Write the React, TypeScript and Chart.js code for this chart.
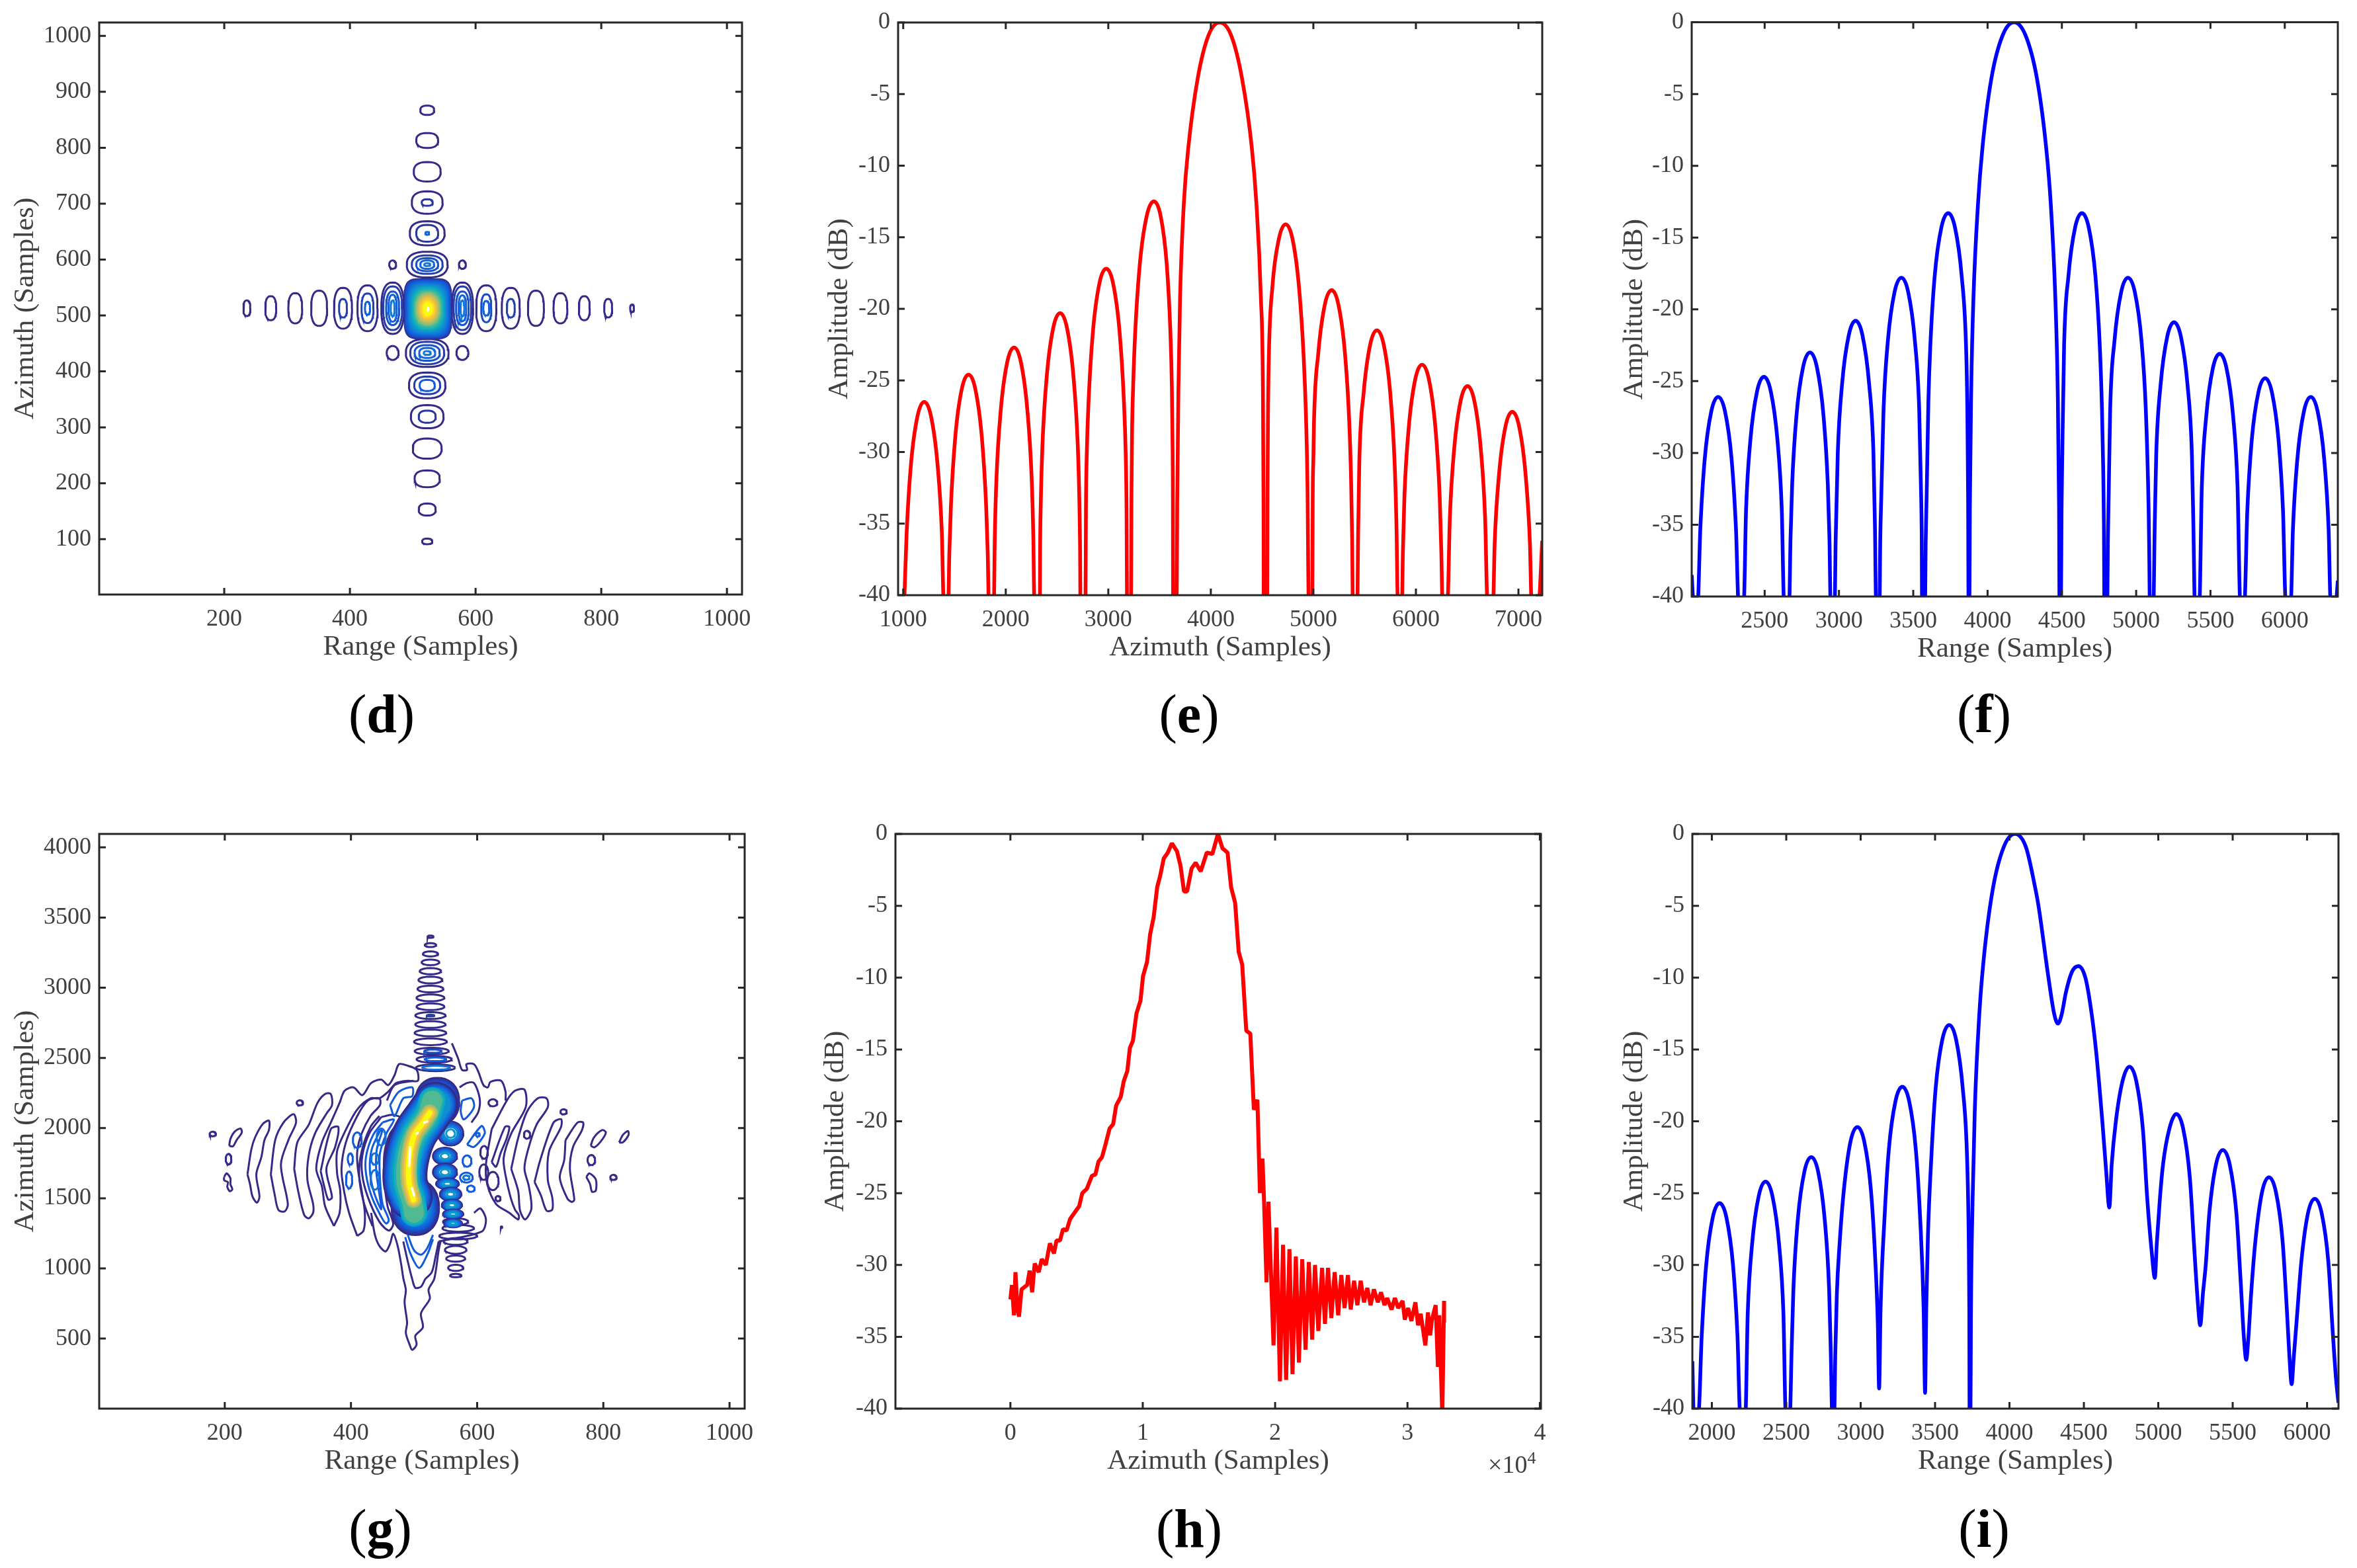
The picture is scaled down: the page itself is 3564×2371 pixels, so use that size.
import React, { useEffect, useRef } from "react";
import { Chart, registerables } from "chart.js";

Chart.register(...registerables);

// ---------- tick labels ----------
const contourXTicks = [200, 400, 600, 800, 1000];
const dYTicks = [100, 200, 300, 400, 500, 600, 700, 800, 900, 1000];
const gYTicks = [500, 1000, 1500, 2000, 2500, 3000, 3500, 4000];
const dbTicks = [0, -5, -10, -15, -20, -25, -30, -35, -40];
const eXTicks = [1000, 2000, 3000, 4000, 5000, 6000, 7000];
const fXTicks = [2500, 3000, 3500, 4000, 4500, 5000, 5500, 6000];
const hXTicks = [0, 10000, 20000, 30000, 40000];
const iXTicks = [2000, 2500, 3000, 3500, 4000, 4500, 5000, 5500, 6000];

// ---------- cuts: [samples, dB] ----------
const azimuthCutE = [
  [1010,-40.5],[1033,-35.7],[1075,-30.9],[1139,-27.5],[1205,-26.5],[1271,-27.5],[1335,-30.9],[1377,-35.7],[1395,-40.5],
  [1439,-40.5],[1450,-37],[1465,-33.8],[1507,-29],[1571,-25.6],[1637,-24.6],[1703,-25.6],[1767,-29],[1809,-33.8],[1824,-37],[1835,-40.5],
  [1884,-40.5],[1893,-36],[1909,-31.9],[1951,-27.1],[2015,-23.7],[2081,-22.7],[2147,-23.7],[2211,-27.1],[2253,-31.9],[2269,-36],[2279,-40.5],
  [2333,-40.5],[2335,-37],[2342,-33.5],[2358,-29.5],[2400,-24.7],[2464,-21.3],[2530,-20.3],[2596,-21.3],[2660,-24.7],[2702,-29.5],[2718,-33.5],[2725,-37],[2728,-40.5],
  [2778,-40.5],[2782,-34],[2790,-30.2],[2808,-26.4],[2850,-21.6],[2914,-18.2],[2980,-17.2],[3046,-18.2],[3110,-21.6],[3152,-26.4],[3170,-30.2],[3178,-34],[3183,-40.5],
  [3222,-40.5],[3226,-33],[3232,-28.5],[3242,-25.5],[3262,-21.7],[3307,-16.9],[3375,-13.5],[3445,-12.5],[3510,-13.5],[3570,-16.9],[3606,-21.7],[3620,-25.5],[3626,-29],[3630,-33],[3632,-40.5],
  [3667,-40.5],[3672,-33.8],[3684,-25.6],[3700,-19.2],[3737,-12.6],[3781,-8.7],[3872,-3.9],[3977,-0.9],[4086,0],[4198,-0.9],[4304,-3.9],[4399,-8.7],[4444,-12.6],[4488,-19.2],[4508,-25.6],[4514,-33.8],[4516,-40.5],
  [4550,-40.5],[4553,-33],[4557,-28],[4566,-23.3],[4600,-18.5],[4664,-15.1],[4730,-14.1],[4796,-15.1],[4860,-18.5],[4905,-23.3],[4928,-27.5],[4942,-32],[4955,-40.5],
  [4990,-40.5],[4994,-33],[5000,-30.5],[5006,-27.9],[5048,-23.1],[5112,-19.7],[5178,-18.7],[5244,-19.7],[5308,-23.1],[5350,-27.9],[5368,-32],[5378,-36],[5385,-40.5],
  [5429,-40.5],[5436,-36],[5448,-30.7],[5490,-25.9],[5554,-22.5],[5620,-21.5],[5686,-22.5],[5750,-25.9],[5792,-30.7],[5810,-35],[5824,-40.5],
  [5864,-40.5],[5873,-37],[5888,-33.1],[5930,-28.3],[5994,-24.9],[6060,-23.9],[6126,-24.9],[6190,-28.3],[6232,-33.1],[6248,-37],[6259,-40.5],
  [6308,-40.5],[6331,-34.6],[6373,-29.8],[6437,-26.4],[6503,-25.4],[6569,-26.4],[6633,-29.8],[6675,-34.6],[6698,-40.5],
  [6753,-40.5],[6768,-36.4],[6810,-31.6],[6874,-28.2],[6940,-27.2],[7006,-28.2],[7070,-31.6],[7112,-36.4],[7128,-40.5],
  [7197,-40.5],[7232,-36.2],
];

const rangeCutF = [
  [2009,-38.5],[2022,-40.5],
  [2049,-40.5],[2067,-35.3],[2096,-30.5],[2141,-27.1],[2187,-26.1],[2233,-27.1],[2278,-30.5],[2307,-35.3],[2325,-40.5],
  [2359,-40.5],[2375,-33.9],[2404,-29.1],[2449,-25.7],[2495,-24.7],[2541,-25.7],[2586,-29.1],[2615,-33.9],[2631,-40.5],
  [2665,-40.5],[2674,-36],[2685,-32.2],[2714,-27.4],[2759,-24],[2805,-23],[2851,-24],[2896,-27.4],[2925,-32.2],[2936,-36],[2944,-40.5],
  [2971,-40.5],[2978,-36],[2992,-30],[3021,-25.2],[3066,-21.8],[3112,-20.8],[3158,-21.8],[3203,-25.2],[3232,-30],[3242,-35],[3250,-40.5],
  [3273,-40.5],[3278,-36],[3285,-33],[3300,-27],[3329,-22.2],[3374,-18.8],[3420,-17.8],[3466,-18.8],[3511,-22.2],[3540,-27],[3553,-33],[3557,-36],[3559,-40.5],
  [3579,-40.5],[3584,-36],[3590,-33],[3602,-26.3],[3615,-22.5],[3644,-17.7],[3689,-14.3],[3735,-13.3],[3781,-14.3],[3826,-17.7],[3855,-22.5],[3864,-27],[3869,-33],[3872,-40.5],
  [3878,-40.5],[3881,-33.8],[3890,-25.6],[3905,-19.2],[3936,-12.6],[3966,-8.7],[4026,-3.9],[4102,-0.9],[4178,0],[4255,-0.9],[4332,-3.9],[4394,-8.7],[4425,-12.6],[4456,-19.2],[4472,-25.6],[4481,-33.8],[4484,-40.5],
  [4494,-40.5],[4498,-34],[4503,-30],[4515,-22.5],[4544,-17.7],[4589,-14.3],[4635,-13.3],[4681,-14.3],[4726,-17.7],[4755,-22.5],[4770,-27],[4778,-31],[4783,-35],[4786,-40.5],
  [4806,-40.5],[4810,-36],[4815,-33],[4825,-27],[4854,-22.2],[4899,-18.8],[4945,-17.8],[4991,-18.8],[5036,-22.2],[5065,-27],[5084,-34],[5088,-37],[5092,-40.5],
  [5116,-40.5],[5125,-35],[5135,-30.1],[5164,-25.3],[5209,-21.9],[5255,-20.9],[5301,-21.9],[5346,-25.3],[5375,-30.1],[5385,-35],[5395,-40.5],
  [5425,-40.5],[5442,-32.3],[5471,-27.5],[5516,-24.1],[5562,-23.1],[5608,-24.1],[5653,-27.5],[5682,-32.3],[5701,-40.5],
  [5728,-40.5],[5748,-34],[5777,-29.2],[5822,-25.8],[5868,-24.8],[5914,-25.8],[5959,-29.2],[5988,-34],[6007,-40.5],
  [6040,-40.5],[6055,-35.3],[6084,-30.5],[6129,-27.1],[6175,-26.1],[6221,-27.1],[6266,-30.5],[6295,-35.3],[6309,-40.5],
  [6343,-40.5],[6357,-38.9],
];

const azimuthCutH = [
  [0,-32.4],[115,-31.4],[268,-33.5],[382,-30.5],[535,-33.1],[650,-33.6],[841,-31.7],[1262,-31.4],[1453,-30.4],[1644,-31.9],
  [1836,-29.9],[2141,-30.5],[2371,-29.6],[2677,-30],[2983,-28.5],[3289,-29.2],[3480,-28.3],[3748,-28.3],[3977,-27.5],[4245,-27.6],
  [4512,-26.8],[4818,-26.4],[5201,-25.9],[5430,-25],[5774,-24.7],[6157,-23.8],[6424,-23.7],[6654,-22.8],[6921,-22.5],[7189,-21.6],
  [7495,-20.5],[7763,-20.2],[7992,-18.9],[8336,-18.3],[8566,-17.2],[8833,-16.5],[9025,-14.9],[9254,-14.4],[9522,-12.5],[9828,-11.6],
  [10019,-9.9],[10325,-8.9],[10554,-7],[10822,-5.8],[11090,-3.7],[11319,-2.9],[11587,-1.7],[11893,-1.3],[12199,-0.65],[12581,-1.2],
  [12849,-2.2],[13116,-4],[13346,-4],[13690,-2.4],[13996,-2],[14378,-2.6],[14837,-1.3],[15258,-1.4],[15678,0],[16022,-1],
  [16405,-1.3],[16673,-3.7],[16979,-4.8],[17246,-8.2],[17514,-9.1],[17820,-13.7],[18126,-13.9],[18393,-19.2],[18661,-18.5],[18852,-25],
  [19044,-22.6],[19158,-25.4],[19349,-31.2],[19497,-25.6],[19880,-35.6],[20097,-27.4],[20363,-38.1],[20597,-28.6],[20830,-38],[21080,-28.9],
  [21313,-37.6],[21563,-29.4],[21797,-36.8],[22047,-29.6],[22297,-35.9],[22547,-29.8],[22797,-35.2],[23013,-30],[23263,-34.6],[23547,-30.2],
  [23763,-34.1],[23997,-30.2],[24247,-33.7],[24497,-30.5],[24763,-33.5],[24997,-30.7],[25247,-33],[25497,-30.7],[25713,-33.1],[25963,-31.1],
  [26213,-32.8],[26463,-31.1],[26713,-32.6],[26963,-31.6],[27213,-32.8],[27463,-31.7],[27763,-32.6],[27997,-31.9],[28263,-32.8],[28463,-32.3],
  [28797,-33.1],[29047,-32.3],[29297,-33],[29630,-32.5],[29797,-33.8],[30047,-33],[30297,-33.9],[30597,-32.6],[30797,-34.2],[31000,-33.4],
  [31347,-35.6],[31547,-33.3],[31713,-34.9],[31850,-33.8],[32130,-32.8],[32297,-37.1],[32400,-33.5],[32630,-40.5],[32763,-32.5],[32763,-34],
];

const rangeCutI = [
  [1869,-36.7],[1879,-40.5],
  [1909,-40.5],[1932,-34.9],[1961,-30.1],[2006,-26.7],[2052,-25.7],[2098,-26.7],[2143,-30.1],[2172,-34.9],[2191,-40.5],
  [2225,-40.5],[2241,-33.4],[2270,-28.6],[2315,-25.2],[2361,-24.2],[2407,-25.2],[2452,-28.6],[2481,-33.4],[2497,-40.5],
  [2524,-40.5],[2536,-36],[2548,-31.7],[2577,-26.9],[2622,-23.5],[2668,-22.5],[2714,-23.5],[2759,-26.9],[2788,-31.7],[2799,-36],[2809,-40.5],
  [2822,-40.5],[2830,-36],[2840,-32],[2858,-28.6],[2887,-24.8],[2932,-21.4],[2978,-20.4],[3024,-21.4],[3069,-24.8],[3098,-29.6],[3115,-34],[3124,-38.6],
  [3134,-33],[3160,-26.8],[3189,-22],[3234,-18.6],[3280,-17.6],[3326,-18.6],[3371,-22],[3400,-26.8],[3423,-33],[3433,-38.9],
  [3441,-33],[3452,-28],[3475,-22.5],[3504,-17.7],[3549,-14.3],[3595,-13.3],[3641,-14.3],[3686,-17.7],[3715,-22.5],[3726,-28],[3730,-33],[3732,-40.5],
  [3738,-40.5],[3741,-33.8],[3752,-25.6],[3767,-19.2],[3797,-12.6],[3827,-8.7],[3887,-3.9],[3962,-0.9],[4037,0],[4110,-0.9],[4170,-3.6],[4195,-5],[4262,-10],[4300,-12.5],[4326,-13.2],
  [4350,-12.6],[4380,-11],[4420,-9.6],[4463,-9.2],[4510,-10],[4545,-12],[4581,-15],[4624,-20],[4650,-23.5],[4671,-26],
  [4687,-23],[4715,-20],[4760,-17.2],[4806,-16.2],[4852,-17.2],[4897,-20.6],[4926,-25.4],[4955,-29],[4977,-30.9],
  [4990,-28.5],[5010,-25.5],[5032,-23],[5075,-20.5],[5121,-19.5],[5167,-20.5],[5212,-23.9],[5241,-28.7],[5265,-32.5],[5282,-34.2],
  [5300,-32],[5319,-30],[5343,-26.4],[5388,-23],[5434,-22],[5480,-23],[5525,-26.4],[5554,-31.2],[5575,-35],[5591,-36.6],
  [5606,-35],[5624,-32],[5653,-28.3],[5698,-24.9],[5744,-23.9],[5790,-24.9],[5835,-28.3],[5864,-33.1],[5882,-36.5],[5896,-38.3],
  [5910,-36.5],[5932,-33.6],[5961,-29.8],[6006,-26.4],[6052,-25.4],[6098,-26.4],[6143,-29.8],[6172,-34.6],[6195,-38],[6211,-39.6],
];

// ---------- contour colour levels ----------
const parulaStops = ["#352a87","#0f5cdd","#1481d6","#06a4ca","#2eb7a4","#87bf77","#d1bb59","#fec832","#f9fb0e"];

// ---------- panel (d): contour rings [centre range, centre azimuth, half range, half azimuth, level] ----------
const dRangeLobes = [
  [236,513,5.5,14,0],[274,513,8.7,21.5,0],[313,513,11,27,0],[351,513,12.7,31.5,0],
  [389,513,14.3,36.5,0],[389,513,6.3,16.5,0.06],
  [428,513,16,41,0],[428,513,9.5,26.5,0.06],[428,513,4,11.5,0.14],
  [468,513,18,46,0],[468,513,15,39,0.05],[468,513,10.3,30,0.1],[468,513,6.5,24,0.14],[468,513,3,14,0.22],
  [579,513,17,46,0],[579,513,14,39,0.05],[579,513,10,30,0.1],[579,513,6,23,0.14],[579,513,3,14,0.22],
  [617,513,16,41,0],[617,513,8,25,0.08],[617,513,4.7,13,0.14],
  [656,513,14.3,36.5,0],[656,513,6.3,16.5,0.06],
  [696,513,12.7,31.5,0],[735,513,11,27,0],[773,513,8.7,21.5,0],[811,513,6.3,16.5,0],[849,513,3,6.6,0],
];
const dAzimuthLobes = [
  [523,867,11,8.3,0],[523,813,17.4,13.3,0],[523,757,21.4,17.4,0],
  [523,702,24.5,20,0],[523,702,8.7,5.8,0.03],
  [523,647,27.7,21.5,0],[523,647,17.4,15,0.03],[523,647,3,2.5,0.15],
  [523,591,32.5,23,0],[523,591,24.5,16.5,0.05],[523,591,17.4,11.6,0.1],[523,591,11,7.5,0.16],[523,591,4.7,2.5,0.22],
  [523,433,34,25,0],[523,433,27,20,0.05],[523,433,20,14,0.1],[523,433,12.7,9,0.16],[523,433,5.5,3.3,0.22],
  [523,375,29,23,0],[523,375,20.6,15.7,0.05],[523,375,12,10,0.12],
  [523,319,26,20.7,0],[523,319,13.5,10.8,0.03],
  [523,262,23,18,0],[523,208,20,15,0],[523,153,13.5,10.8,0],[523,96,8,5,0],
];
const dCornerLobes = [[468,591,5.5,7.5,0],[579,591,5.5,7.5,0],[468,433,9.5,12.5,0],[579,433,9.5,12.5,0]];
// main lobe: [half range, half azimuth, squareness, level]
const dMainLobe = [
  [36.8,53,5,0.02],[35.4,51,4.8,0.07],[34,49,4.5,0.11],[32.5,47.5,4.2,0.15],[31,45.5,4,0.19],[29.5,43.5,3.7,0.24],
  [28,41.5,3.4,0.28],[26.5,39.5,3.2,0.33],[25,37.5,3,0.38],[23.5,35.5,2.8,0.43],[22,33.5,2.6,0.48],[20.5,31,2.5,0.53],
  [19,29,2.4,0.58],[17.5,27,2.3,0.63],[16,25,2.2,0.68],[14.5,23,2.2,0.73],[13,20.5,2.1,0.78],[11.5,18.5,2,0.83],
  [10,16,2,0.88],[8.5,13.5,2,0.92],[7,11.5,2,0.96],[5.5,9,2,1],[4,7.5,2,1],
];

// ---------- panel (g): contours: [range, azimuth] ----------
const gPurpleContours = [
  [[207,1874],[209,1923],[216,1976],[225,1997],[227,1968],[219,1916],[213,1870],[207,1874]],
  [[199,1652],[203,1677],[209,1642],[209,1600],[212,1564],[208,1550],[204,1582],[205,1614],[199,1628],[199,1652]],
  [[236,1670],[242,1846],[248,1933],[260,2028],[270,2053],[270,1986],[263,1916],[258,1793],[250,1670],[255,1512],[251,1469],[244,1512],[240,1600],[236,1670]],
  [[273,1670],[280,1916],[293,2039],[309,2099],[313,2039],[301,1916],[289,1740],[300,1459],[295,1406],[285,1417],[279,1529],[273,1670]],
  [[310,1710],[315,1898],[333,2023],[347,2180],[359,2243],[368,2243],[370,2164],[361,2102],[343,1961],[333,1804],[331,1631],[340,1459],[340,1396],[333,1357],[326,1380],[317,1537],[310,1710]],
  [[373,1302],[359,1443],[354,1584],[345,1710],[354,1898],[368,2039],[382,2180],[390,2266],[404,2290],[418,2235],[432,2321],[448,2345],[459,2306],[469,2376],[476,2455],[488,2447],[504,2415],[506,2337],[490,2337],[472,2321],[459,2259],[445,2212],[431,2212],[410,2133],[389,1961],[378,1835],[378,1678],[383,1553],[382,1396],[373,1302]],
  [[352,1694],[368,1992],[380,2008],[375,1866],[361,1710],[370,1506],[364,1490],[356,1615],[352,1694]],
  [[410,1231],[397,1396],[389,1553],[385,1710],[392,1898],[410,2086],[427,2196],[445,2212],[446,2164],[431,2086],[417,1961],[410,1835],[411,1710],[417,1553],[422,1396],[420,1270],[410,1231]],
  [[434,1302],[420,1474],[413,1663],[417,1835],[431,2008],[445,2086]],
  [[432,1396],[438,1239],[445,1161],[455,1121],[462,1176],[467,1247],[474,1161],[480,1019],[483,930],[487,847],[485,760],[489,612],[487,540],[493,457],[497,420],[504,457],[502,520],[514,580],[511,680],[525,784],[523,850],[532,925],[539,1129],[542,1192]],
  [[483,1192],[490,1051],[497,925],[502,862],[511,870],[518,925],[528,972],[534,1082],[539,1192]],
  [[448,2078],[429,1961],[418,1804],[418,1663],[427,1506],[445,1333],[460,1270],[467,1317],[458,1443],[453,1631],[453,1819],[462,1961],[479,2070],[465,2094],[448,2078]],
  [[457,2196],[469,2306],[499,2337]],
  [[825,1898],[831,1951],[839,1979],[840,1951],[831,1898],[825,1898]],
  [[780,1874],[785,1933],[798,1986],[804,1968],[796,1905],[786,1863],[780,1874]],
  [[773,1652],[778,1677],[788,1635],[788,1554],[782,1547],[779,1600],[773,1652]],
  [[740,1914],[759,2039],[768,2039],[766,1984],[752,1866],[747,1710],[754,1490],[750,1474],[743,1498],[731,1647],[738,1772],[740,1914]],
  [[691,1616],[700,1772],[721,2039],[733,2063],[733,2008],[714,1835],[712,1631],[719,1506],[719,1419],[710,1412],[701,1521],[691,1616]],
  [[654,1710],[665,1929],[679,2117],[696,2212],[710,2212],[712,2149],[694,2023],[680,1835],[675,1710],[682,1584],[686,1427],[676,1349],[668,1412],[665,1553],[654,1710]],
  [[623,1992],[647,2196],[660,2266],[675,2274],[677,2149],[654,1961],[642,1788],[645,1663],[653,1506],[660,1419],[666,1380],[665,1349],[651,1396],[630,1459],[616,1600],[614,1741],[623,1992]],
  [[560,2604],[570,2494],[576,2415],[584,2415],[583,2455],[595,2455],[602,2400],[610,2306],[617,2290],[621,2329],[638,2337],[645,2259],[645,2196]],
  [[572,2290],[584,2321],[595,2321],[604,2212],[602,2117],[591,2039]],
  [[623,1757],[644,2008],[651,2008],[647,1929],[637,1819],[630,1725],[623,1757]],
  [[595,1396],[605,1427],[614,1349],[607,1262],[539,1192]],
];
const gBlueContours = [
  [[486,1223],[495,1098],[508,1004],[521,1098],[530,1208]],
  [[490,1239],[500,1129],[511,1098],[521,1145],[530,1239]],
  [[462,2164],[476,2259],[497,2290],[497,2227],[483,2212],[469,2086],[462,2164]],
  [[576,2196],[591,2212],[595,2149],[579,2062],[574,2117],[576,2196]],
  [[584,1882],[607,2015],[612,1961],[595,1866],[584,1882]],
  [[450,2040],[435,1950],[424,1800],[424,1670],[433,1510],[449,1360],[456,1320],[460,1345],[450,1460],[446,1640],[446,1820],[456,1960],[468,2060],[450,2040]],
  [[446,1980],[433,1850],[430,1700],[436,1550],[448,1420],[444,1560],[440,1700],[441,1850],[450,1990],[446,1980]],
];
const gRings = [
  [181,1958,5,16,0],[206,1779,4.5,37,0],[319,2180,5,18,0],[816,1649,5,18,0],[781,1772,6,36,0],[737,2116,5,18,0],
  [679,1953,5,28,0],[625,2180,7,25,0],[633,1498,4,18,0],[638.5,1294,1.2,5,0],[611,1827,6,45,0],[610.5,1686,7,55,0],[625,1623,9,65,0],
  [584,1765,7,40,0.12],[583,1647,10,35,0.12],[583,1647,5,15,0.2],[590,1568,6,22,0.12],[410,1914,7,55,0.12],[399,1780,4,40,0.12],[397,1631,5,60,0.12],
  [448,1937,7,60,0.2],[438,1780,6,40,0.2],[438,1631,7,70,0.2],[601,1953,3,12,0.15],
  [526,3364,4.7,8,0],[526,3304,9,14,0],[526,3241,12,18,0],[526,3181,14,20,0],[526,3118,17,22,0],[526,3055,19,24,0],[526,2991,20.5,24,0],
  [526,2928,22,24,0],[526,2865,22,24,0],[526,2802,24,24,0],[526,2802,6,6,0.05],[526,2738,24,24,0],[526,2678,25,24,0],[526,2615,26,24,0],
  [528,2548,27,24,0],[530,2548,14,12,0.08],[532,2490,28,24,0],[534,2490,17,13,0.12],[534,2430,31,24,0],[535,2430,22,14,0.2],
  [566,949,9,12,0],[566,1004,12,22,0],[566,1070,15,22,0],[566,1132,17,28,0],[566,1192,19,24,0],[570,1231,30,24,0],[570,1286,25,24,0],[566,1333,20,24,0],
];
// the two broad ends of the crescent of (g): [range, azimuth, half range, half azimuth]
const gFans = [[537,2190,34,165],[502,1435,37,195]];
const gFanLevels = [[1,0],[0.93,0.04],[0.86,0.08],[0.8,0.12],[0.74,0.16],[0.68,0.2],[0.62,0.24],[0.56,0.28],[0.5,0.33],[0.44,0.38],[0.38,0.43],[0.32,0.48]];
// right-hand blobs of (g): [range, azimuth, half range, half azimuth]
const gBlobs = [
  [558,1961,20,85],[549,1800,19,60],[549,1686,19,60],[553,1603,18,38],[558,1529,17,47],[560,1451,16,39],[562,1388,16,31],[562,1321,14,28],
];
const gBlobLevels = [[1,0],[0.85,0.1],[0.7,0.18],[0.55,0.26],[0.35,0.34]];
// the crescent of (g): three centre lines, and [level, stroke, which centre line]
const gSpineLong = [[534,2170],[521,2086],[500,1945],[488,1772],[486,1616],[494,1510]];
const gSpineMid = [[529,2196],[521,2086],[500,1945],[489,1772],[488,1616],[497,1474],[500,1396]];
const gSpineCore = [[525,2110],[513,2031],[500,1945],[492,1772],[492,1616],[499,1490]];
const gStreaks = [[[494,1864],[492,1730]],[[497,1570],[500,1520]],[[521,2047],[516,2040]],[[506,1968],[504,1960]]];
const gCrescentTiers = [
  [0,68,0],[0.08,62,0],[0.15,57,0],[0.22,52,0],[0.3,46,0],[0.38,41,1],[0.45,36,1],[0.55,30,1],[0.65,25,2],[0.75,20,2],[0.87,14,2],[1,8,2],
];

// ---------- panel letters ----------
const panelLetters = [["d",577,1080],["e",1798,1080],["f",3000,1080],["g",575,2312],["h",1798,2312],["i",3000,2312]];

// ---------- helpers ----------
const hexRgb = (h) => [1, 3, 5].map((i) => parseInt(h.slice(i, i + 2), 16));
const parula = (level) => {
  const p = Math.min(Math.max(level, 0), 1) * (parulaStops.length - 1);
  const i = Math.min(Math.floor(p), parulaStops.length - 2);
  const a = hexRgb(parulaStops[i]);
  const b = hexRgb(parulaStops[i + 1]);
  const c = a.map((v, k) => Math.round(v + (b[k] - v) * (p - i)));
  return `rgb(${c[0]},${c[1]},${c[2]})`;
};
const toXY = (pts) => pts.map(([x, y]) => ({ x, y }));
const line = (pts, color, width, extra = {}) => ({
  data: toXY(pts),
  borderColor: color,
  borderWidth: width,
  pointRadius: 0,
  showLine: true,
  clip: 0,
  ...extra,
});
const ring = (cx, cy, rx, ry, n = 2.5) => {
  const pts = [];
  for (let k = 0; k <= 40; k++) {
    const t = (k / 40) * 2 * Math.PI;
    const c = Math.cos(t);
    const s = Math.sin(t);
    pts.push([cx + rx * Math.sign(c) * Math.pow(Math.abs(c), 2 / n), cy + ry * Math.sign(s) * Math.pow(Math.abs(s), 2 / n)]);
  }
  return pts;
};
const contourWidth = 3;
const ringSet = (rows, n) => rows.map(([cx, cy, rx, ry, lv]) => line(ring(cx, cy, rx, ry, n), parula(lv), contourWidth));

const cut = (pts, color, width = 5.6) =>
  [line(pts, color, width, { cubicInterpolationMode: "monotone", borderJoinStyle: "round" })];

const dDatasets = [
  ...ringSet(dRangeLobes),
  ...ringSet(dAzimuthLobes),
  ...ringSet(dCornerLobes, 2),
  ...dMainLobe.map(([rx, ry, n, lv]) => line(ring(524, 512, rx, ry, n), parula(lv), 3.4)),
];

const spines = [gSpineLong, gSpineMid, gSpineCore];
const gDatasets = [
  ...gPurpleContours.map((p) => line(p, parula(0), contourWidth, { tension: 0.3, borderJoinStyle: "round" })),
  ...gBlueContours.map((p) => line(p, parula(0.12), contourWidth, { tension: 0.3, borderJoinStyle: "round" })),
  ...ringSet(gRings, 2),
  ...gFans.flatMap(([cx, cy, rx, ry]) =>
    gFanLevels.map(([f, lv]) => line(ring(cx, cy, rx * f, ry * f, 2.2), parula(lv), 4))
  ),
  ...gBlobs.flatMap(([cx, cy, rx, ry]) =>
    gBlobLevels.map(([f, lv]) => line(ring(cx, cy, rx * f, ry * f, 2), parula(lv), 3))
  ),
  ...gCrescentTiers.map(([lv, w, s]) =>
    line(spines[s], parula(lv), w, { tension: 0.4, borderCapStyle: "round", borderJoinStyle: "round" })
  ),
  ...gStreaks.map((p) => line(p, "#ffffff", 3.5, { borderCapStyle: "round" })),
];

const panels = [
  { id: "d", canvas: [0, 0, 1180, 1019], plot: [150, 1122, 34, 899], x: [1, 1024], y: [1, 1024], xTicks: contourXTicks, yTicks: dYTicks, xLabel: "Range (Samples)", yLabel: "Azimuth (Samples)", yPad: 13, datasets: dDatasets },
  { id: "e", canvas: [1200, 0, 1200, 1020], plot: [1358, 2332, 34, 900], x: [950, 7232], y: [-40, 0], xTicks: eXTicks, yTicks: dbTicks, xLabel: "Azimuth (Samples)", yLabel: "Amplitude (dB)", yPad: 44, datasets: cut(azimuthCutE, "#ff0000") },
  { id: "f", canvas: [2420, 0, 1144, 1022], plot: [2558, 3535, 32, 902], x: [2009, 6357], y: [-40, 0], xTicks: fXTicks, yTicks: dbTicks, xLabel: "Range (Samples)", yLabel: "Amplitude (dB)", yPad: 26, datasets: cut(rangeCutF, "#0000ff") },
  { id: "g", canvas: [0, 1220, 1180, 1030], plot: [150, 1126, 1261, 2130], x: [1, 1024], y: [1, 4096], xTicks: contourXTicks, yTicks: gYTicks, xLabel: "Range (Samples)", yLabel: "Azimuth (Samples)", yPad: 13, datasets: gDatasets },
  { id: "h", canvas: [1200, 1220, 1200, 1030], plot: [1354, 2330, 1261, 2130], x: [-8685, 40080], y: [-40, 0], xTicks: hXTicks, yTicks: dbTicks, xLabel: "Azimuth (Samples)", yLabel: "Amplitude (dB)", yPad: 38, xFormat: (v) => String(v / 10000), datasets: [line(azimuthCutH, "#ff0000", 6, { tension: 0, borderJoinStyle: "bevel" })] },
  { id: "i", canvas: [2420, 1220, 1144, 1030], plot: [2559, 3536, 1261, 2130], x: [1869, 6211], y: [-40, 0], xTicks: iXTicks, yTicks: dbTicks, xLabel: "Range (Samples)", yLabel: "Amplitude (dB)", yPad: 26, datasets: cut(rangeCutI, "#0000ff") },
];

const serif = "'Liberation Serif', serif";
const textColor = "#404040";
const frameColor = "#262626";

const axisFrame = {
  id: "axisFrame",
  afterDatasetsDraw(chart) {
    const { ctx, chartArea: a, scales } = chart;
    const len = 10;
    ctx.save();
    ctx.strokeStyle = frameColor;
    ctx.lineWidth = 3;
    ctx.strokeRect(a.left, a.top, a.right - a.left, a.bottom - a.top);
    ctx.beginPath();
    scales.x.ticks.forEach((t) => {
      const p = scales.x.getPixelForValue(t.value);
      ctx.moveTo(p, a.bottom); ctx.lineTo(p, a.bottom - len);
      ctx.moveTo(p, a.top); ctx.lineTo(p, a.top + len);
    });
    scales.y.ticks.forEach((t) => {
      const p = scales.y.getPixelForValue(t.value);
      ctx.moveTo(a.left, p); ctx.lineTo(a.left + len, p);
      ctx.moveTo(a.right, p); ctx.lineTo(a.right - len, p);
    });
    ctx.stroke();
    ctx.restore();
  },
};

function Panel({ spec }) {
  const ref = useRef(null);
  useEffect(() => {
    const [cl, ct, cw, ch] = spec.canvas;
    const [pl, pr, pt, pb] = spec.plot;
    const chart = new Chart(ref.current, {
      type: "scatter",
      data: { datasets: [...spec.datasets].reverse() },
      plugins: [axisFrame],
      options: {
        animation: false,
        responsive: false,
        devicePixelRatio: 1,
        layout: { autoPadding: false, padding: { top: pt - ct, right: cl + cw - pr, left: 0, bottom: 0 } },
        plugins: { legend: { display: false }, tooltip: { enabled: false }, title: { display: false } },
        events: [],
        scales: {
          x: {
            type: "linear",
            min: spec.x[0],
            max: spec.x[1],
            grid: { display: false, drawTicks: false },
            border: { display: false },
            afterBuildTicks: (s) => { s.ticks = spec.xTicks.map((value) => ({ value })); },
            afterFit: (s) => { s.height = ct + ch - pb; },
            ticks: {
              autoSkip: false, maxRotation: 0, minRotation: 0, padding: 16, color: textColor,
              font: { family: serif, size: 36 },
              callback: (v) => (spec.xFormat ? spec.xFormat(v) : String(v)),
            },
            title: {
              display: true, text: spec.xLabel, color: textColor,
              font: { family: serif, size: 43 },
              padding: { top: 0, bottom: ct + ch - pb - 80 - 25.8 },
            },
          },
          y: {
            type: "linear",
            min: spec.y[0],
            max: spec.y[1],
            grid: { display: false, drawTicks: false },
            border: { display: false },
            afterBuildTicks: (s) => { s.ticks = spec.yTicks.map((value) => ({ value })); },
            afterFit: (s) => { s.width = pl - cl; },
            ticks: {
              autoSkip: false, padding: 12, color: textColor,
              font: { family: serif, size: 36 },
              callback: (v) => String(v),
            },
            title: {
              display: true, text: spec.yLabel, color: textColor,
              font: { family: serif, size: 43 },
              padding: { top: spec.yPad, bottom: 0 },
            },
          },
        },
      },
    });
    return () => chart.destroy();
  }, [spec]);
  const [cl, ct, cw, ch] = spec.canvas;
  return <canvas ref={ref} width={cw} height={ch} style={{ position: "absolute", left: cl, top: ct }} />;
}

export default function App() {
  return (
    <div style={{ position: "absolute", left: 0, top: 0, width: 3564, height: 2371, background: "#fff", overflow: "hidden" }}>
      {panels.map((p) => <Panel key={p.id} spec={p} />)}
      {panelLetters.map(([t, x, y]) => (
        <div key={t} style={{ position: "absolute", left: x, top: y, transform: "translate(-50%,-50%)", fontFamily: serif, fontSize: 82, color: "#000", lineHeight: 1 }}>
          (<b>{t}</b>)
        </div>
      ))}
      <div style={{ position: "absolute", left: 2250, top: 2192, fontFamily: serif, fontSize: 38, color: textColor, lineHeight: 1.2 }}>
        ×10<sup style={{ fontSize: 26, lineHeight: 0 }}>4</sup>
      </div>
    </div>
  );
}
